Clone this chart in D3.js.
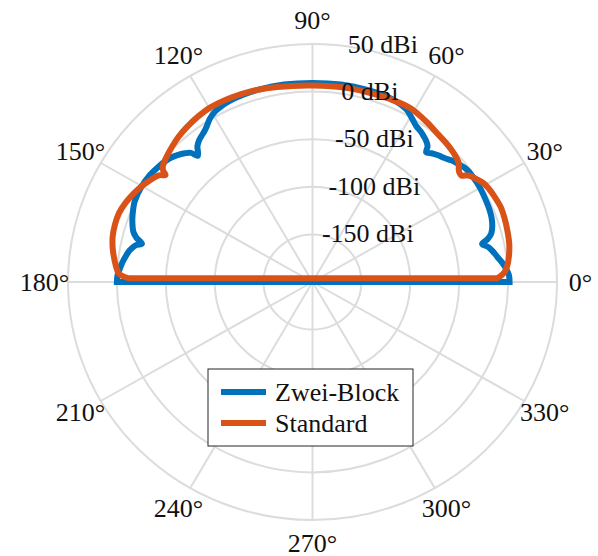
<!DOCTYPE html>
<html>
<head>
<meta charset="utf-8">
<script src="https://cdn.jsdelivr.net/npm/d3@7/dist/d3.min.js"></script>
<style>
  html, body { margin: 0; padding: 0; background: #fff; }
  svg { display: block; }
  text { font-family: "Liberation Serif", "Times New Roman", serif; fill: #111; }
</style>
</head>
<body>
<svg id="chart" width="598" height="556"></svg>
<script>
// Polar gain pattern of two antenna variants (dBi over elevation angle)
const seriesNames = ["Zwei-Block", "Standard"];
const seriesColors = ["#0072BD", "#D95319"];

const angleTicks = [0, 30, 60, 90, 120, 150, 180, 210, 240, 270, 300, 330];
const angleLabels = ["0°", "30°", "60°", "90°", "120°", "150°", "180°", "210°", "240°", "270°", "300°", "330°"];

const radiusTicks = [-150, -100, -50, 0, 50];
const radiusLabels = ["-150 dBi", "-100 dBi", "-50 dBi", "0 dBi", "50 dBi"];
const radiusDomain = [-200, 50];

// Zwei-Block: angle (deg) and gain (dBi)
const zweiBlockAngles = [0, 2, 4, 6, 8, 10, 11.5, 13, 14, 15.5, 17.5, 20, 22.5, 25, 30, 34, 37, 40, 42, 44, 46, 48, 49.5,
  50.5, 52, 53.5, 55, 57, 59.5, 62, 64, 66, 70, 75, 82, 90,
  98, 105, 110, 114, 116.5, 119, 121.5, 123.5, 125, 126.5, 128, 129.5, 131.5,
  132.5, 134, 136, 138, 140, 143, 146, 150, 155, 157.5, 160, 162, 164, 165.5, 167,
  168, 170, 172, 174, 176, 178, 180];
const zweiBlockGain = [1.5, 1, -1.5, -5, -9.3, -13, -16.5, -22, -16, -10.5, -7.3, -5, -3.8, -3.2, -2.2, -2.3, -3, -6.5, -9, -12.5, -15, -18, -21,
  -15, -11.5, -9.2, -7, -5, 0, 5, 7, 8.3, 9.2, 9.5, 9.4, 9,
  9.4, 9.5, 9.2, 8.3, 7, 5, 1, -4, -7, -9.2, -11.5, -15, -23,
  -16, -12, -8, -5, -3, -1, 0.8, 1.5, 0.6, -1.5, -4, -6.5, -9.5, -14, -21,
  -15, -10, -7, -4.5, -2.5, -0.5, 0];

// Standard: angle (deg) and gain (dBi)
const standardAngles = [1.2, 2.7, 5, 7.5, 11, 15, 19, 22.4, 26, 28.5, 30.6, 32.8, 35, 36.3, 37.3, 38.2, 40, 43.1, 47, 50.8,
  55, 61.2, 66, 71.4, 80, 90, 100, 107.5, 113, 119.5, 124, 128.1, 132, 135.3, 137.5, 139.6, 141.5, 142.5, 143.2,
  144.5, 147.1, 150, 153, 156.5, 160, 163.5, 166.9, 170, 172.5, 175, 177.4, 178.8];
const standardGain = [-11, -4.2, 0, 2.5, 5, 6.4, 7.5, 7.9, 6.5, 5.2, 3.5, -0.5, -5, -11, -11, -9.7, -5, -2.1, 0, 1.6,
  4.5, 8.2, 8, 7.3, 6.8, 6.4, 8, 10, 10.8, 11, 9.5, 7.4, 5, 2, 0, -2.1, -4.5, -7.5, -12.3,
  -7, -2.7, 1.5, 5.1, 8.5, 10.7, 10.8, 9.8, 7.5, 4.9, 2, -1.8, -12];

const svg = d3.select("#chart");
const cx = 312.5, cy = 282, rx = 244.5, ry = 238;
const r = d3.scaleLinear().domain(radiusDomain).range([0, 1]).clamp(true);
const rad = d => d * Math.PI / 180;
const px = (a, v) => cx + rx * r(v) * Math.cos(rad(a));
const py = (a, v) => cy - ry * r(v) * Math.sin(rad(a));

const grid = svg.append("g").attr("fill", "none").attr("stroke", "#dcdcdc").attr("stroke-width", 2);

// spokes
grid.selectAll("line").data(angleTicks).join("line")
  .attr("x1", cx).attr("y1", cy)
  .attr("x2", a => px(a, radiusDomain[1]))
  .attr("y2", a => py(a, radiusDomain[1]));

// rings
grid.selectAll("ellipse").data(radiusTicks).join("ellipse")
  .attr("cx", cx).attr("cy", cy)
  .attr("rx", v => rx * r(v)).attr("ry", v => ry * r(v));

// gain curves: smooth through the samples, closed by a straight segment
const line = d3.line().x(d => px(d[0], d[1])).y(d => py(d[0], d[1])).curve(d3.curveCatmullRom.alpha(0.5));
const series = [
  d3.zip(zweiBlockAngles, zweiBlockGain),
  d3.zip(standardAngles, standardGain)
];
svg.append("g").selectAll("path").data(series).join("path")
  .attr("d", d => line(d) + "Z")
  .attr("fill", "none")
  .attr("stroke", (d, i) => seriesColors[i])
  .attr("stroke-width", 6)
  .attr("stroke-linejoin", "miter")
  .attr("stroke-miterlimit", 10);

// angle labels
const labelOffset = 23.5;
svg.append("g").selectAll("text").data(angleTicks).join("text")
  .attr("x", a => cx + (rx + labelOffset) * Math.cos(rad(a)))
  .attr("y", a => cy - (ry + labelOffset) * Math.sin(rad(a)))
  .attr("text-anchor", "middle")
  .attr("dominant-baseline", "central")
  .attr("font-size", 26)
  .text((a, i) => angleLabels[i]);

// radial labels, stacked along the radial axis
const rAxisAngle = 82.4;
svg.append("g").selectAll("text").data(radiusTicks).join("text")
  .attr("x", v => px(rAxisAngle, v) + 3)
  .attr("y", v => py(rAxisAngle, v) - 1.5)
  .attr("text-anchor", "start")
  .attr("dominant-baseline", "central")
  .attr("font-size", 26)
  .text((v, i) => radiusLabels[i]);

// legend
const legend = svg.append("g").attr("transform", "translate(208,369)");
legend.append("rect").attr("width", 205).attr("height", 77)
  .attr("fill", "#fff").attr("stroke", "#262626").attr("stroke-width", 1);
const items = legend.selectAll("g.item").data(seriesNames).join("g")
  .attr("class", "item")
  .attr("transform", (d, i) => `translate(0,${23 + i * 31})`);
items.append("line").attr("x1", 13).attr("x2", 58).attr("y1", 0).attr("y2", 0)
  .attr("stroke", (d, i) => seriesColors[i]).attr("stroke-width", 6);
items.append("text").attr("x", 67).attr("y", 0)
  .attr("dominant-baseline", "central")
  .attr("font-size", 26)
  .text(d => d);
</script>
</body>
</html>
